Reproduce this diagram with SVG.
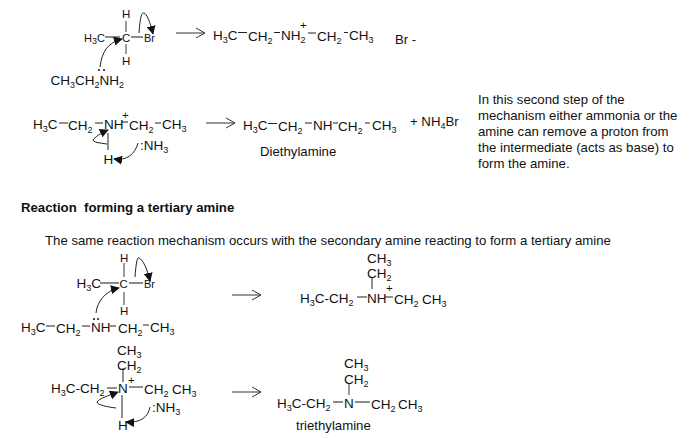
<svg xmlns="http://www.w3.org/2000/svg" width="691" height="438" viewBox="0 0 691 438">
<style>
text{font-family:"Liberation Sans",Arial,sans-serif;fill:#111}
.f{font-size:13.5px}.m{font-size:11.5px}.p{font-size:13.2px}.t{font-size:11px}
.s{font-size:9px}.b{font-weight:bold;font-size:13.2px}
.l{stroke:#222;stroke-width:1;fill:none}
.g{stroke:#666;stroke-width:1.3;fill:none}
.c{stroke:#222;stroke-width:1;fill:none;marker-end:url(#h)}
.a{stroke:#333;stroke-width:1;fill:none}
.d{fill:#111}
</style>
<defs>
<marker id="h" viewBox="0 0 10 10" refX="9" refY="5" markerWidth="9" markerHeight="9" markerUnits="userSpaceOnUse" orient="auto"><path d="M0 0L10 5L0 10z" fill="#111"/></marker>
</defs>
<g id="connectors">
<path class="g" d="M105 37H120M131 37H143M126 21V32M126 44V54"/>
<path class="c" d="M100 67C102 52 107 43 122 39"/>
<path class="c" d="M139 33C140 20 141 12 144 13C147 14 150 22 153 34"/>
<path class="a" d="M176 33H204M196 28L205 33L196 38"/>
<path class="l" d="M238 32.500H247M274 32.500H280M308 33H316M344 32.500H348"/>
<path class="l" d="M59 123H68M95 123H103M122 122H128M155 123H161"/>
<path class="l" d="M108 150V133"/>
<path class="c" d="M107 144C99 143 93 142 93 140C95 137 101 133 108 130"/>
<path class="c" d="M138 143C135 154 127 161 114 159"/>
<path class="a" d="M206 123H235M226 118L235 123L226 128"/>
<path class="l" d="M268 123.500H277M305 123H312M333 123H338M365 123H370"/>
<path class="g" d="M100 283H119M129 283H143M124 263V277M124 292V305"/>
<path class="c" d="M96 313C97 302 105 291 119 288"/>
<path class="c" d="M135 277C136 264 137 257 139 258C143 260 147 268 150 281"/>
<path class="l" d="M46 326H55M82 326H90M110 326H116M143 325H149"/>
<path class="a" d="M232 295H261M252 290L261 295L252 300"/>
<path class="l" d="M123 368V382M107 388H117M129 387H143M122 395V418"/>
<path class="c" d="M116 408C108 407 97 405 97 402C100 398 108 396 118 392"/>
<path class="c" d="M150 407C148 417 141 423 126 422"/>
<path class="a" d="M232 392H261M252 387L261 392L252 397"/>
<path class="l" d="M372 277V289M357 297H367M385 297H393"/>
<path class="g" d="M349 383V395M333 402H343M355 402H370"/>
</g>
<g id="top-reactant">
<text class="m" x="122" y="18">H</text>
<text class="t" x="84" y="42">H<tspan class="s" dy="2">3</tspan><tspan dy="-2">C</tspan></text>
<text class="m" x="122" y="42">C</text>
<text class="t" x="144" y="42">Br</text>
<text class="m" x="122" y="65">H</text>
<text class="f" x="50.500" y="85">CH<tspan class="s" dy="3">3</tspan><tspan dy="-3">CH</tspan><tspan class="s" dy="3">2</tspan><tspan dy="-3">NH</tspan><tspan class="s" dy="3">2</tspan></text>
<circle class="d" cx="99" cy="70" r="1"/><circle class="d" cx="104" cy="70" r="1"/>
</g>
<g id="top-product">
<text class="f" x="213" y="39.500">H<tspan class="s" dy="3">3</tspan><tspan dy="-3">C</tspan></text>
<text class="f" x="248" y="40.500">CH<tspan class="s" dy="3">2</tspan></text>
<text class="f" x="281" y="39.500">NH<tspan class="s" dy="3">2</tspan></text>
<text class="m" x="300" y="29">+</text>
<text class="f" x="317" y="40.500">CH<tspan class="s" dy="3">2</tspan></text>
<text class="f" x="349" y="39.500">CH<tspan class="s" dy="3">3</tspan></text>
<text class="p" x="395" y="44">Br -</text>
</g>
<g id="second-reactant">
<text class="f" x="33" y="129">H<tspan class="s" dy="3">3</tspan><tspan dy="-3">C</tspan></text>
<text class="f" x="68" y="130">CH<tspan class="s" dy="3">2</tspan></text>
<text class="f" x="104" y="129">NH</text>
<text class="m" x="122" y="119">+</text>
<text class="f" x="129" y="130">CH<tspan class="s" dy="3">2</tspan></text>
<text class="f" x="162" y="129">CH<tspan class="s" dy="3">3</tspan></text>
<text class="f" x="103.500" y="163.500">H</text>
<text class="f" x="140" y="150">:NH<tspan class="s" dy="3">3</tspan></text>
</g>
<g id="second-product">
<text class="f" x="243" y="130">H<tspan class="s" dy="3">3</tspan><tspan dy="-3">C</tspan></text>
<text class="f" x="278" y="131">CH<tspan class="s" dy="3">2</tspan></text>
<text class="f" x="313" y="130">NH</text>
<text class="f" x="338" y="131">CH<tspan class="s" dy="3">2</tspan></text>
<text class="f" x="372" y="130">CH<tspan class="s" dy="3">3</tspan></text>
<text class="p" x="260" y="156">Diethylamine</text>
<text class="p" x="410" y="126">+ NH<tspan class="s" dy="3">4</tspan><tspan dy="-3">Br</tspan></text>
</g>
<g id="note">
<text class="p" x="478" y="104">In this second step of the</text>
<text class="p" x="478" y="120">mechanism either ammonia or the</text>
<text class="p" x="478" y="136">amine can remove a proton from</text>
<text class="p" x="478" y="152">the intermediate (acts as base) to</text>
<text class="p" x="478" y="168">form the amine.</text>
</g>
<g id="heading">
<text class="b" x="21" y="212" xml:space="preserve">Reaction  forming a tertiary amine</text>
<text class="p" x="45" y="245">The same reaction mechanism occurs with the secondary amine reacting to form a tertiary amine</text>
</g>
<g id="third-reactant">
<text class="m" x="120" y="262">H</text>
<text class="f" x="76.500" y="288">H<tspan class="s" dy="3">3</tspan><tspan dy="-3">C</tspan></text>
<text class="m" x="119.500" y="288">C</text>
<text class="t" x="144" y="288">Br</text>
<text class="m" x="120" y="315">H</text>
<text class="f" x="21" y="332">H<tspan class="s" dy="3">3</tspan><tspan dy="-3">C</tspan></text>
<text class="f" x="56" y="333">CH<tspan class="s" dy="3">2</tspan></text>
<text class="f" x="91" y="332">NH</text>
<circle class="d" cx="94" cy="319" r="1"/><circle class="d" cx="98" cy="319" r="1"/>
<text class="f" x="118" y="333">CH<tspan class="s" dy="3">2</tspan></text>
<text class="f" x="150" y="332">CH<tspan class="s" dy="3">3</tspan></text>
</g>
<g id="third-product">
<text class="f" x="367" y="263">CH<tspan class="s" dy="3">3</tspan></text>
<text class="f" x="367" y="278">CH<tspan class="s" dy="3">2</tspan></text>
<text class="f" x="300" y="303">H<tspan class="s" dy="3">3</tspan><tspan dy="-3">C-CH</tspan><tspan class="s" dy="3">2</tspan></text>
<text class="f" x="367" y="303">NH</text>
<text class="m" x="386" y="292">+</text>
<text class="f" x="394" y="304">CH<tspan class="s" dy="3">2</tspan></text>
<text class="f" x="422" y="304">CH<tspan class="s" dy="3">3</tspan></text>
</g>
<g id="fourth-reactant">
<text class="f" x="117" y="355">CH<tspan class="s" dy="3">3</tspan></text>
<text class="f" x="117" y="370">CH<tspan class="s" dy="3">2</tspan></text>
<text class="f" x="51" y="393">H<tspan class="s" dy="3">3</tspan><tspan dy="-3">C-CH</tspan><tspan class="s" dy="3">2</tspan></text>
<text class="f" x="118" y="393">N</text>
<text class="m" x="128" y="384">+</text>
<text class="f" x="144" y="394">CH<tspan class="s" dy="3">2</tspan></text>
<text class="f" x="172" y="394">CH<tspan class="s" dy="3">3</tspan></text>
<text class="f" x="152" y="412">:NH<tspan class="s" dy="3">3</tspan></text>
<text class="f" x="118" y="430">H</text>
</g>
<g id="fourth-product">
<text class="f" x="344" y="368">CH<tspan class="s" dy="3">3</tspan></text>
<text class="f" x="344" y="384">CH<tspan class="s" dy="3">2</tspan></text>
<text class="f" x="277" y="408">H<tspan class="s" dy="3">3</tspan><tspan dy="-3">C-CH</tspan><tspan class="s" dy="3">2</tspan></text>
<text class="f" x="344" y="408">N</text>
<text class="f" x="371" y="409">CH<tspan class="s" dy="3">2</tspan></text>
<text class="f" x="398" y="409">CH<tspan class="s" dy="3">3</tspan></text>
<text class="p" x="296" y="430">triethylamine</text>
</g>
</svg>
